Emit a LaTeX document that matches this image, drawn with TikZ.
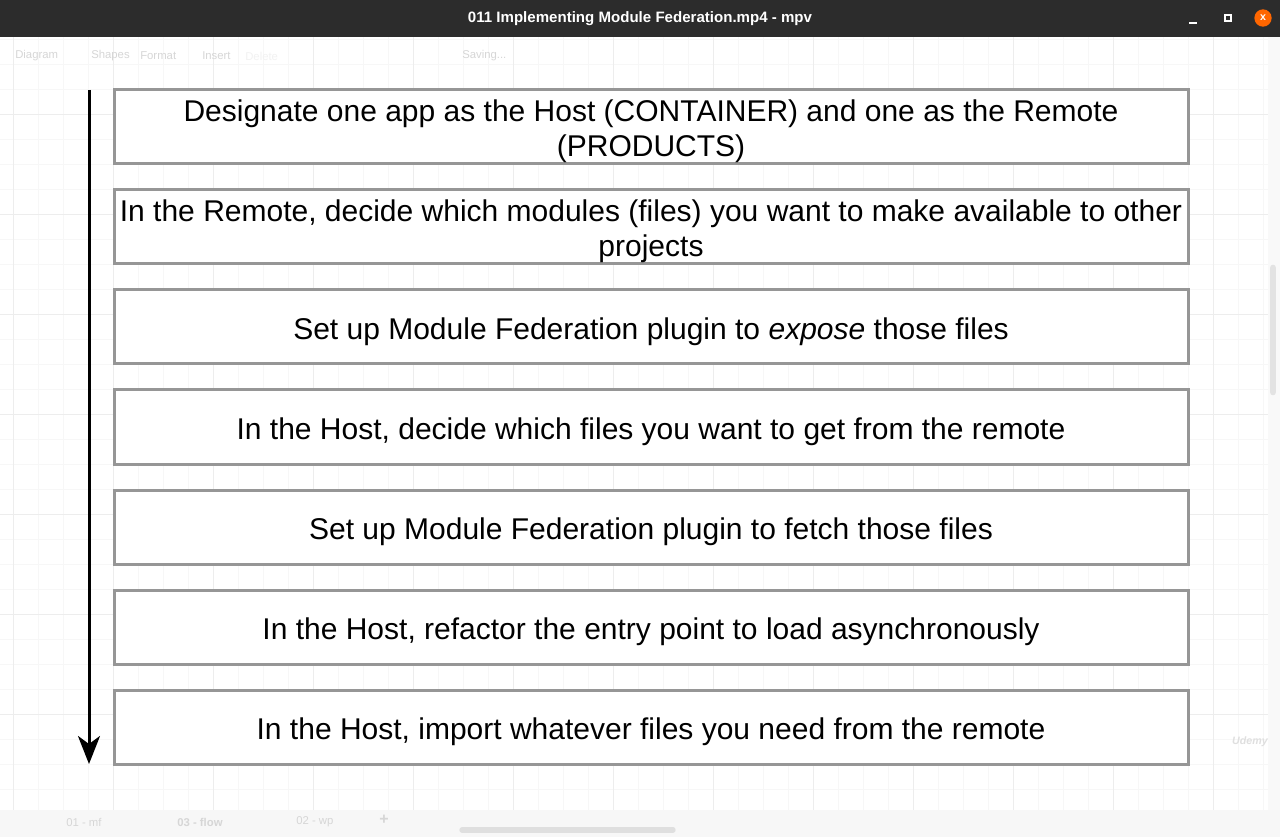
\documentclass[tikz,border=0pt]{standalone}
\usepackage{fontspec}
\setmainfont{Liberation Sans}
\usetikzlibrary{arrows.meta}
\definecolor{boxgray}{RGB}{150,150,150}
\definecolor{gridminor}{RGB}{247,247,247}
\definecolor{gridmajor}{RGB}{237,237,237}
\definecolor{titlebar}{RGB}{44,44,44}
\definecolor{faint}{RGB}{214,214,214}

\begin{document}
\begin{tikzpicture}[
		x=0.75pt, y=-0.75pt,
		stepbox/.style={draw=boxgray, line width=2.25pt, fill=white, minimum width=805.5pt,
			minimum height=55.5pt, inner sep=0pt},
		steptext/.style={align=center, inner sep=0pt, yshift=-3.5pt,
			font=\fontsize{22.5}{26.25}\selectfont},
		ui/.style={text=faint, font=\fontsize{8.5}{10}\selectfont, inner sep=0pt}
		]
		\useasboundingbox (0,0) rectangle (1280,837);
		\fill[white] (0,0) rectangle (1280,837);
		
		% canvas grid
		\foreach \x in {13,38,...,1263}{\draw[gridminor] (\x,37) -- (\x,810);}
		\foreach \y in {39,64,...,810}{\draw[gridminor] (0,\y) -- (1268,\y);}
		\foreach \x in {13,113,...,1263}{\draw[gridmajor] (\x,37) -- (\x,810);}
		\foreach \y in {114,214,...,810}{\draw[gridmajor] (0,\y) -- (1268,\y);}
		
		% window frame
		\fill[titlebar] (0,0) rectangle (1280,37);
		\node[text=white, font=\bfseries\fontsize{11.3}{13}\selectfont] (title) at (640,19) {011 Implementing Module Federation.mp4 - mpv};
		\draw[white, line width=1.5pt] (1189,23) -- (1197,23);
		\draw[white, line width=1.2pt] (1225,15) rectangle (1231,21);
		\node[circle, fill=orange!80!red, minimum size=13pt, inner sep=0pt, text=white, font=\bfseries\fontsize{8}{8}\selectfont] (close) at (1263,18) {x};
		
		% toolbar and tabs
		\node[ui, anchor=west] (tdiagram) at (15,56) {Diagram};
		\node[ui, anchor=west] (tshapes) at (91,56) {Shapes};
		\node[ui, anchor=west] (tformat) at (140,56) {Format};
		\node[ui, anchor=west] (tinsert) at (202,56) {Insert};
		\node[ui, anchor=west, text=gray!10] (tdelete) at (245,56) {Delete};
		\node[ui, anchor=west] (tsaving) at (462,56) {Saving...};
		\fill[gray!6] (0,810) rectangle (1280,837);
		\node[ui, anchor=west] (tab1) at (66,822) {01 - mf};
		\node[ui, anchor=west, font=\bfseries\fontsize{8.5}{10}\selectfont] (tab3) at (177,822) {03 - flow};
		\node[ui, anchor=west] (tab2) at (296,822) {02 - wp};
		\node[ui, font=\bfseries\fontsize{12}{12}\selectfont] (tabadd) at (384,820) {+};
		\draw[gray!25, line width=4pt, line cap=round] (462,830) -- (673,830);
		\fill[gray!5] (1268,37) rectangle (1280,810);
		\draw[gray!22, line width=5pt, line cap=round] (1273,268) -- (1273,392);
		\node[ui, text=gray!25, font=\bfseries\itshape\fontsize{8}{9}\selectfont] (udemy) at (1250,742) {Udemy};
		
		% steps
		\foreach \i in {1,...,7}{\node[stepbox] (s\i) at (651,27+100*\i) {};}
		\node[steptext] (t1) at (s1) {Designate one app as the Host (CONTAINER) and one as the Remote\\(PRODUCTS)};
		\node[steptext] (t2) at (s2) {In the Remote, decide which modules (files) you want to make available to other\\projects};
		\node[steptext] (t3) at (s3) {Set up Module Federation plugin to \textit{expose} those files};
		\node[steptext] (t4) at (s4) {In the Host, decide which files you want to get from the remote};
		\node[steptext] (t5) at (s5) {Set up Module Federation plugin to fetch those files};
		\node[steptext] (t6) at (s6) {In the Host, refactor the entry point to load asynchronously};
		\node[steptext] (t7) at (s7) {In the Host, import whatever files you need from the remote};
		
		% time arrow
		\coordinate (start) at (89,90);
		\coordinate (finish) at (89,764);
		\draw[line width=2.25pt, -{Stealth[length=21pt, width=16.5pt, inset=6pt]}] (start) -- (finish);
		
		\end{tikzpicture}
\end{document}
